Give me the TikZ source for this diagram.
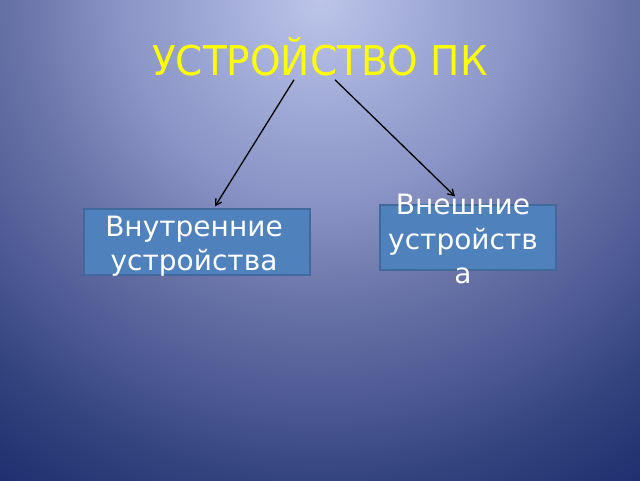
\documentclass[tikz,border=0pt]{standalone}
\usepackage{fontspec}
\setmainfont{DejaVu Sans}
\newfontfamily\titlefont[FakeStretch=0.95]{DejaVu Sans}
\newfontfamily\boxfont{DejaVu Sans}
\usetikzlibrary{arrows.meta}
\definecolor{bga}{HTML}{BCC5E8}
\definecolor{bgb}{HTML}{A2ACD8}
\definecolor{bgc}{HTML}{8A94C6}
\definecolor{bgd}{HTML}{6A74A8}
\definecolor{bge}{HTML}{4E5A94}
\definecolor{bgf}{HTML}{34447F}
\definecolor{bgg}{HTML}{1A2A6C}
\definecolor{boxfill}{HTML}{4F81BD}
\definecolor{boxline}{HTML}{41699B}
\definecolor{titleyellow}{HTML}{FFFF00}
\pgfdeclareradialshading{bgshade}{\pgfpoint{0bp}{0bp}}{%
  color(0bp)=(bga); color(4.17bp)=(bgb); color(8.33bp)=(bgc);
  color(12.5bp)=(bgd); color(16.67bp)=(bge); color(20bp)=(bgf);
  color(25bp)=(bgg); color(50bp)=(bgg)}
\tikzset{
  box/.style={draw=boxline, fill=boxfill, line width=1.2pt, inner sep=0pt},
  boxtext/.style={text=white, align=center, inner sep=0pt,
    font=\boxfont\fontsize{28}{34.5}\selectfont},
  titletext/.style={text=titleyellow, inner sep=0pt,
    font=\titlefont\fontsize{41}{48}\selectfont},
  arr/.style={draw=black, line width=1.3pt, -{Straight Barb[length=6pt,width=7pt]}}
}
\begin{document}
\begin{tikzpicture}[x=1pt,y=-1pt]
\useasboundingbox (0,0) rectangle (640,480);
\fill[bgg] (0,0) rectangle (640,480);
\begin{scope}
  \clip (0,0) rectangle (640,480);
  \shade[shading=bgshade] (320,0) circle [radius=600];
\end{scope}
\node[titletext, anchor=base] (title) at (320,75) {УСТРОЙСТВО ПК};
\node[box, minimum width=226pt, minimum height=66pt] (lbox) at (197,242) {};
\node[box, minimum width=176pt, minimum height=65pt] (rbox) at (468,237.5) {};
\node[boxtext, anchor=north] (ltext) at (194,215.6) {Внутренние\\устройства};
\node[boxtext, anchor=north] (rtext) at (463,194) {Внешние\\устройств\\а};
\draw[arr] ([xshift=-26pt,yshift=-4pt]title.south) -- ([xshift=18pt,yshift=2pt]lbox.north);
\draw[arr] ([xshift=15pt,yshift=-4pt]title.south) -- ([xshift=-13pt,yshift=8pt]rbox.north);
\end{tikzpicture}
\end{document}
